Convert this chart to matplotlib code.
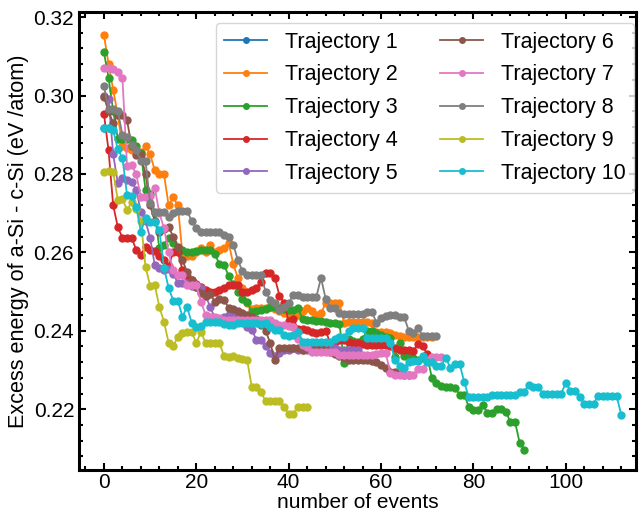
import matplotlib
matplotlib.use('Agg')
import matplotlib.pyplot as plt
import numpy as np

plt.rcParams['font.family'] = ['Liberation Sans', 'DejaVu Sans']

# energies per event for each trajectory (eV/atom)
traj1 = [0.2916, 0.2916]
traj2 = [0.3155, 0.3080, 0.3015, 0.2950, 0.2870, 0.2865, 0.2860, 0.2860, 0.2855, 0.2870,
         0.2850, 0.2810, 0.2800, 0.2800, 0.2720, 0.2740, 0.2720, 0.2595, 0.2590, 0.2590,
         0.2600, 0.2610, 0.2600, 0.2620, 0.2600, 0.2605, 0.2610, 0.2625, 0.2570, 0.2535,
         0.2510, 0.2470, 0.2455, 0.2458, 0.2458, 0.2458, 0.2460, 0.2455, 0.2450, 0.2445,
         0.2440, 0.2440, 0.2440, 0.2450, 0.2458, 0.2450, 0.2440, 0.2445, 0.2470, 0.2471,
         0.2471, 0.2470, 0.2420, 0.2423, 0.2423, 0.2423, 0.2423, 0.2423, 0.2420, 0.2398,
         0.2398, 0.2398, 0.2395, 0.2390, 0.2387, 0.2385, 0.2385, 0.2385, 0.2385, 0.2385,
         0.2385, 0.2385]
traj3 = [0.3110, 0.3045, 0.2960, 0.2890, 0.2890, 0.2888, 0.2887, 0.2870, 0.2853, 0.2760,
         0.2750, 0.2700, 0.2610, 0.2620, 0.2637, 0.2624, 0.2610, 0.2606, 0.2600, 0.2602,
         0.2604, 0.2606, 0.2606, 0.2606, 0.2596, 0.2570, 0.2568, 0.2540, 0.2520, 0.2500,
         0.2480, 0.2474, 0.2448, 0.2450, 0.2452, 0.2455, 0.2461, 0.2460, 0.2458, 0.2455,
         0.2453, 0.2453, 0.2458, 0.2430, 0.2428, 0.2428, 0.2426, 0.2424, 0.2423, 0.2420,
         0.2420, 0.2418, 0.2318, 0.2380, 0.2375, 0.2372, 0.2380, 0.2400, 0.2400, 0.2395,
         0.2390, 0.2385, 0.2382, 0.2334, 0.2369, 0.2336, 0.2336, 0.2330, 0.2326, 0.2330,
         0.2335, 0.2280, 0.2268, 0.2260, 0.2257, 0.2257, 0.2255, 0.2237, 0.2237, 0.2206,
         0.2199, 0.2199, 0.2212, 0.2191, 0.2191, 0.2201, 0.2201, 0.2194, 0.2168, 0.2168,
         0.2115, 0.2097]
traj4 = [0.2953, 0.2860, 0.2720, 0.2665, 0.2637, 0.2637, 0.2637, 0.2606, 0.2594, 0.2614,
         0.2606, 0.2604, 0.2590, 0.2580, 0.2565, 0.2600, 0.2600, 0.2556, 0.2540, 0.2530,
         0.2520, 0.2512, 0.2505, 0.2500, 0.2500, 0.2505, 0.2508, 0.2517, 0.2517, 0.2517,
         0.2499, 0.2500, 0.2505, 0.2510, 0.2525, 0.2548, 0.2548, 0.2535, 0.2490, 0.2471,
         0.2425, 0.2430, 0.2405, 0.2405, 0.2403, 0.2396, 0.2395, 0.2398, 0.2400, 0.2369,
         0.2372, 0.2377, 0.2377, 0.2372, 0.2370, 0.2368, 0.2366, 0.2365, 0.2365, 0.2365,
         0.2365, 0.2365, 0.2360, 0.2355, 0.2352, 0.2350, 0.2350, 0.2349, 0.2367, 0.2362,
         0.2340]
traj5 = [0.3000, 0.2991, 0.2850, 0.2777, 0.2790, 0.2785, 0.2780, 0.2760, 0.2703, 0.2680,
         0.2637, 0.2568, 0.2560, 0.2555, 0.2558, 0.2545, 0.2522, 0.2522, 0.2522, 0.2515,
         0.2512, 0.2510, 0.2490, 0.2461, 0.2433, 0.2430, 0.2435, 0.2440, 0.2440, 0.2441,
         0.2433, 0.2410, 0.2403, 0.2377, 0.2377, 0.2360, 0.2344, 0.2335, 0.2344, 0.2350,
         0.2352, 0.2355, 0.2352, 0.2350, 0.2352, 0.2355, 0.2355, 0.2352, 0.2350, 0.2352,
         0.2355, 0.2352, 0.2352, 0.2352, 0.2352, 0.2350]
traj6 = [0.2996, 0.2960, 0.2930, 0.2950, 0.2950, 0.2937, 0.2870, 0.2848, 0.2848, 0.2800,
         0.2720, 0.2680, 0.2652, 0.2660, 0.2665, 0.2640, 0.2614, 0.2580, 0.2550, 0.2530,
         0.2512, 0.2497, 0.2490, 0.2495, 0.2474, 0.2480, 0.2478, 0.2459, 0.2455, 0.2450,
         0.2445, 0.2440, 0.2436, 0.2430, 0.2415, 0.2400, 0.2369, 0.2326, 0.2357, 0.2357,
         0.2357, 0.2357, 0.2355, 0.2352, 0.2355, 0.2358, 0.2360, 0.2359, 0.2350, 0.2345,
         0.2340, 0.2335, 0.2330, 0.2326, 0.2326, 0.2326, 0.2326, 0.2325, 0.2323, 0.2321,
         0.2313, 0.2306, 0.2296, 0.2295, 0.2290, 0.2287, 0.2287]
traj7 = [0.3070, 0.3070, 0.3068, 0.3060, 0.3045, 0.2820, 0.2822, 0.2800, 0.2740, 0.2740,
         0.2745, 0.2765, 0.2700, 0.2662, 0.2600, 0.2555, 0.2543, 0.2543, 0.2517, 0.2517,
         0.2517, 0.2474, 0.2441, 0.2436, 0.2436, 0.2432, 0.2428, 0.2428, 0.2428, 0.2427,
         0.2428, 0.2428, 0.2428, 0.2428, 0.2428, 0.2428, 0.2428, 0.2420, 0.2415, 0.2415,
         0.2412, 0.2410, 0.2380, 0.2365, 0.2359, 0.2346, 0.2346, 0.2346, 0.2346, 0.2346,
         0.2346, 0.2339, 0.2339, 0.2339, 0.2339, 0.2339, 0.2339, 0.2339, 0.2339, 0.2340,
         0.2344, 0.2344, 0.2293, 0.2288, 0.2288, 0.2288, 0.2288, 0.2288, 0.2303, 0.2303,
         0.2326, 0.2334, 0.2334, 0.2334]
traj8 = [0.3024, 0.2966, 0.2965, 0.2960, 0.2900, 0.2894, 0.2874, 0.2860, 0.2833, 0.2833,
         0.2726, 0.2703, 0.2703, 0.2703, 0.2690, 0.2700, 0.2706, 0.2706, 0.2706, 0.2680,
         0.2662, 0.2652, 0.2652, 0.2652, 0.2652, 0.2652, 0.2645, 0.2640, 0.2620, 0.2580,
         0.2552, 0.2543, 0.2543, 0.2543, 0.2543, 0.2500, 0.2479, 0.2470, 0.2453, 0.2460,
         0.2470, 0.2492, 0.2492, 0.2487, 0.2487, 0.2487, 0.2487, 0.2535, 0.2482, 0.2459,
         0.2459, 0.2446, 0.2443, 0.2443, 0.2443, 0.2443, 0.2443, 0.2449, 0.2449, 0.2421,
         0.2433, 0.2438, 0.2441, 0.2440, 0.2436, 0.2436, 0.2400, 0.2395, 0.2408, 0.2387,
         0.2387, 0.2387, 0.2387]
traj9 = [0.2805, 0.2808, 0.2805, 0.2734, 0.2736, 0.2708, 0.2728, 0.2710, 0.2680, 0.2563,
         0.2515, 0.2517, 0.2461, 0.2423, 0.2370, 0.2360, 0.2385, 0.2395, 0.2397, 0.2397,
         0.2369, 0.2397, 0.2369, 0.2369, 0.2369, 0.2369, 0.2336, 0.2334, 0.2336, 0.2330,
         0.2328, 0.2326, 0.2257, 0.2257, 0.2245, 0.2220, 0.2220, 0.2220, 0.2220, 0.2206,
         0.2188, 0.2188, 0.2206, 0.2206, 0.2206]
traj10 = [0.2916, 0.2916, 0.2912, 0.2863, 0.2841, 0.2747, 0.2745, 0.2716, 0.2652, 0.2688,
          0.2678, 0.2678, 0.2657, 0.2560, 0.2510, 0.2477, 0.2477, 0.2436, 0.2461, 0.2420,
          0.2410, 0.2412, 0.2422, 0.2422, 0.2422, 0.2422, 0.2418, 0.2415, 0.2415, 0.2420,
          0.2420, 0.2420, 0.2420, 0.2420, 0.2418, 0.2420, 0.2410, 0.2403, 0.2403, 0.2390,
          0.2387, 0.2390, 0.2398, 0.2372, 0.2372, 0.2372, 0.2372, 0.2372, 0.2372, 0.2372,
          0.2380, 0.2385, 0.2385, 0.2400, 0.2408, 0.2408, 0.2408, 0.2382, 0.2382, 0.2382,
          0.2382, 0.2382, 0.2370, 0.2326, 0.2309, 0.2306, 0.2321, 0.2323, 0.2323, 0.2336,
          0.2321, 0.2321, 0.2311, 0.2311, 0.2331, 0.2306, 0.2316, 0.2316, 0.2270, 0.2230,
          0.2230, 0.2230, 0.2232, 0.2232, 0.2237, 0.2237, 0.2237, 0.2237, 0.2237, 0.2237,
          0.2245, 0.2245, 0.2262, 0.2257, 0.2257, 0.2240, 0.2240, 0.2240, 0.2240, 0.2240,
          0.2267, 0.2247, 0.2247, 0.2232, 0.2214, 0.2214, 0.2214, 0.2234, 0.2234, 0.2234,
          0.2234, 0.2234, 0.2186]

trajs = [traj1, traj2, traj3, traj4, traj5, traj6, traj7, traj8, traj9, traj10]

fig = plt.figure(figsize=(6.42, 5.14), dpi=100)
ax = fig.add_axes([79/642, 1-470/514, (636-79)/642, (470-12)/514])

for i, t in enumerate(trajs):
    ax.plot(np.arange(len(t)), t, '-o', ms=5, lw=1.3, label='Trajectory %d' % (i+1))

ax.set_xlim(-5.4, 115.2)
ax.set_ylim(0.2045, 0.3213)
ax.set_xticks([0, 20, 40, 60, 80, 100])
ax.set_yticks([0.22, 0.24, 0.26, 0.28, 0.30, 0.32])
ax.set_yticklabels(['0.22', '0.24', '0.26', '0.28', '0.30', '0.32'])
ax.xaxis.set_minor_locator(matplotlib.ticker.MultipleLocator(4))
ax.yaxis.set_minor_locator(matplotlib.ticker.MultipleLocator(0.004))
ax.tick_params(which='both', direction='in', top=True, right=True, labelsize=15, width=1.5)
ax.tick_params(axis='x', pad=2)
ax.tick_params(which='major', length=5)
ax.tick_params(which='minor', length=3)
for s in ax.spines.values():
    s.set_linewidth(2.2)

ax.set_xlabel('number of events', fontsize=15, labelpad=1)
ax.set_ylabel('Excess energy of a-Si - c-Si (eV /atom)', fontsize=15.6, labelpad=3)

ax.legend(ncol=2, fontsize=15.5, loc='upper right', bbox_to_anchor=(0.9964, 0.976),
          borderaxespad=0, markerscale=0.8, labelspacing=0.55)

plt.savefig('out.png', dpi=100)
